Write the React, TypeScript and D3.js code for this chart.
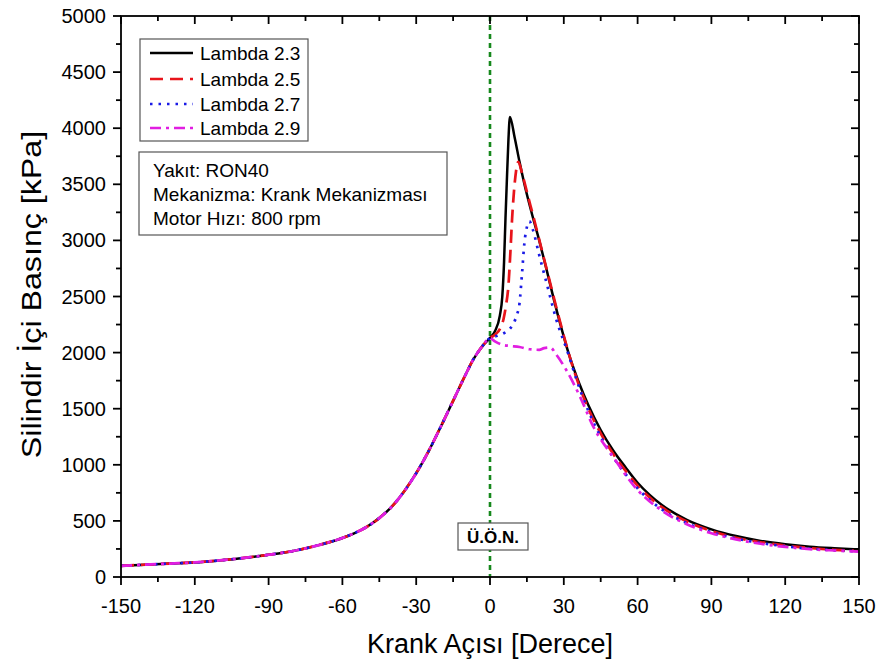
import React from "react";
import * as d3 from "d3";

// ---------- DATA ----------
const compressionX = [-150, -140, -130, -120, -110, -100, -90, -80, -70, -60, -55, -50, -45, -40, -35, -30, -25, -20, -15, -10, -7, -5, -3, 0];
const compressionY = [100, 110, 120, 130, 148, 170, 198, 232, 282, 348, 392, 448, 525, 625, 760, 925, 1120, 1340, 1570, 1800, 1930, 2000, 2060, 2130];

const l23X = [2, 4, 5, 5.7, 6.3, 6.8, 7.5, 8.1, 10, 12, 14, 17, 20, 23, 26, 29, 32, 36, 40, 45, 50, 55, 60, 65, 70, 80, 90, 100, 110, 120, 130, 140, 150];
const l23Y = [2190, 2330, 2500, 2800, 3200, 3500, 3900, 4100, 3920, 3700, 3500, 3240, 3000, 2740, 2470, 2220, 1990, 1740, 1530, 1310, 1130, 980, 840, 730, 640, 510, 425, 365, 322, 292, 270, 256, 245];

const l25X = [2, 4, 5.5, 6.5, 7.5, 8.3, 9, 10, 11.5, 13, 15.5, 18, 21, 24, 27, 30, 33, 36, 40, 45, 50, 55, 60, 70, 80, 90, 100, 110, 120, 130, 140, 150];
const l25Y = [2160, 2210, 2300, 2420, 2600, 2900, 3200, 3500, 3700, 3600, 3390, 3180, 2920, 2660, 2400, 2150, 1920, 1720, 1500, 1280, 1100, 950, 815, 620, 495, 410, 350, 310, 280, 258, 242, 232];

const l27X = [3, 5.4, 8, 10, 11, 12, 13, 14, 15, 16, 17.5, 20, 23, 27, 31.8, 35, 40, 45, 50, 55, 60, 70, 80, 90, 100, 110, 120, 130, 140, 150];
const l27Y = [2150, 2170, 2210, 2280, 2340, 2440, 2700, 2980, 3120, 3170, 3090, 2870, 2620, 2290, 1990, 1770, 1480, 1250, 1070, 920, 790, 600, 480, 400, 343, 303, 274, 252, 238, 228];

const l29X = [2, 5, 8, 12, 16, 20, 22, 24.5, 27, 31, 36.6, 42, 50, 60, 70, 80, 90, 100, 110, 120, 130, 140, 150];
const l29Y = [2100, 2070, 2060, 2050, 2030, 2025, 2040, 2045, 1980, 1845, 1607, 1340, 1072, 775, 590, 470, 390, 335, 296, 268, 248, 236, 226];

const seriesNames = ["Lambda 2.3", "Lambda 2.5", "Lambda 2.7", "Lambda 2.9"];
const xTicks = [-150, -120, -90, -60, -30, 0, 30, 60, 90, 120, 150];
const yTicks = [0, 500, 1000, 1500, 2000, 2500, 3000, 3500, 4000, 4500, 5000];
const infoLines = ["Yakıt: RON40", "Mekanizma: Krank Mekanizması", "Motor Hızı: 800 rpm"];
const xTitle = "Krank Açısı [Derece]";
const yTitle = "Silindir İçi Basınç [kPa]";
const tdcLabel = "Ü.Ö.N.";

// ---------- LAYOUT ----------
const W = 882, H = 671;
const L = 121, R = 859, T = 16, B = 577;
const FONT = "'Liberation Sans', Arial, sans-serif";

const styles = [
  { color: "#000000", dash: "", width: 2.5 },
  { color: "#e8141b", dash: "13 7", width: 2.7 },
  { color: "#1a1ae6", dash: "2.5 6", width: 2.7 },
  { color: "#e11ee1", dash: "11 5 3 5", width: 2.7 },
];

function build(xs: number[], ys: number[]) {
  const pts: [number, number][] = compressionX.map((x, i) => [x, compressionY[i]]);
  xs.forEach((x, i) => pts.push([x, ys[i]]));
  return pts;
}

export default function App() {
  const x = d3.scaleLinear().domain([-150, 150]).range([L, R]);
  const y = d3.scaleLinear().domain([0, 5000]).range([B, T]);
  const line = d3
    .line<[number, number]>()
    .x((d) => x(d[0]))
    .y((d) => y(d[1]))
    .curve(d3.curveMonotoneX);

  const series = [build(l23X, l23Y), build(l25X, l25Y), build(l27X, l27Y), build(l29X, l29Y)];
  const xMinor = d3.range(-135, 150, 30);
  const yMinor = d3.range(250, 5000, 500);

  const legendRows = [53, 79, 104, 128];

  return (
    <svg width={W} height={H} style={{ position: "absolute", left: 0, top: 0, background: "#fff" }} fontFamily={FONT}>
      <rect x={0} y={0} width={W} height={H} fill="#fff" />
      <defs>
        <clipPath id="plot">
          <rect x={L} y={T} width={R - L} height={B - T} />
        </clipPath>
      </defs>

      {/* TDC line */}
      <line x1={x(0)} x2={x(0)} y1={T} y2={B} stroke="#16881c" strokeWidth={2.6} strokeDasharray="5 4" />

      {/* series */}
      <g clipPath="url(#plot)">
        {[0, 1, 2, 3].map((i) => (
          <path
            key={i}
            d={line(series[i]) || ""}
            fill="none"
            stroke={styles[i].color}
            strokeWidth={styles[i].width}
            strokeDasharray={styles[i].dash}
          />
        ))}
      </g>

      {/* frame */}
      <rect x={L} y={T} width={R - L} height={B - T} fill="none" stroke="#000" strokeWidth={1.8} />

      {/* bottom axis ticks (outward) and top (inward) */}
      {xTicks.map((v) => (
        <g key={"xt" + v}>
          <line x1={x(v)} x2={x(v)} y1={B} y2={B + 8} stroke="#000" strokeWidth={1.8} />
          <line x1={x(v)} x2={x(v)} y1={T} y2={T + 8} stroke="#000" strokeWidth={1.8} />
          <text x={x(v)} y={B + 36} textAnchor="middle" fontSize={20} fill="#000">
            {v}
          </text>
        </g>
      ))}
      {xMinor.map((v) => (
        <g key={"xm" + v}>
          <line x1={x(v)} x2={x(v)} y1={B} y2={B + 5} stroke="#000" strokeWidth={1.8} />
          <line x1={x(v)} x2={x(v)} y1={T} y2={T + 5} stroke="#000" strokeWidth={1.8} />
        </g>
      ))}

      {/* left axis (outward) and right (inward) */}
      {yTicks.map((v) => (
        <g key={"yt" + v}>
          <line x1={L - 8} x2={L} y1={y(v)} y2={y(v)} stroke="#000" strokeWidth={1.8} />
          <line x1={R - 8} x2={R} y1={y(v)} y2={y(v)} stroke="#000" strokeWidth={1.8} />
          <text x={L - 15} y={y(v) + 7} textAnchor="end" fontSize={20} fill="#000">
            {v}
          </text>
        </g>
      ))}
      {yMinor.map((v) => (
        <g key={"ym" + v}>
          <line x1={L - 5} x2={L} y1={y(v)} y2={y(v)} stroke="#000" strokeWidth={1.8} />
          <line x1={R - 5} x2={R} y1={y(v)} y2={y(v)} stroke="#000" strokeWidth={1.8} />
        </g>
      ))}

      {/* axis titles */}
      <text x={490} y={653} textAnchor="middle" fontSize={27} fill="#000">
        {xTitle}
      </text>
      <text transform={`translate(41, ${(T + B) / 2 - 2}) rotate(-90) scale(1.15, 1)`} textAnchor="middle" fontSize={28} fill="#000">
        {yTitle}
      </text>

      {/* legend */}
      <rect x={140} y={39} width={168} height={102} fill="#fff" stroke="#555" strokeWidth={1.2} />
      {seriesNames.map((n, i) => (
        <g key={n}>
          <line
            x1={150}
            x2={193}
            y1={legendRows[i]}
            y2={legendRows[i]}
            stroke={styles[i].color}
            strokeWidth={styles[i].width}
            strokeDasharray={styles[i].dash}
          />
          <text x={200} y={legendRows[i] + 7} fontSize={19} fill="#000">
            {n}
          </text>
        </g>
      ))}

      {/* info box */}
      <rect x={139} y={152} width={308} height={83} fill="#fff" stroke="#555" strokeWidth={1.2} />
      {infoLines.map((t, i) => (
        <text key={t} x={153} y={177 + i * 24} fontSize={19} fill="#000">
          {t}
        </text>
      ))}

      {/* TDC label */}
      <rect x={458} y={523} width={70} height={27} fill="#fff" stroke="#555" strokeWidth={1.2} />
      <text x={493} y={543} textAnchor="middle" fontSize={17} fontWeight="bold" fill="#000">
        {tdcLabel}
      </text>
    </svg>
  );
}
